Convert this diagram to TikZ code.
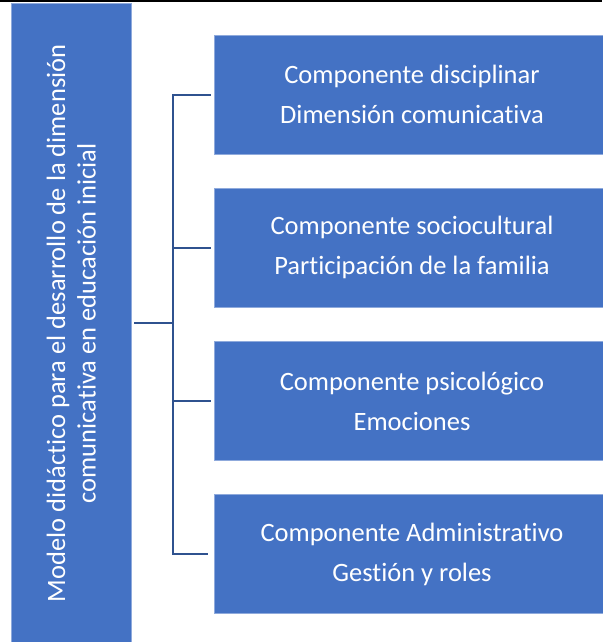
\documentclass[tikz,border=0pt]{standalone}
\usepackage{fontspec}
\setmainfont{Carlito}[Ligatures={NoCommon}]
\definecolor{boxblue}{HTML}{4472C4}
\definecolor{lineblue}{HTML}{2F528F}
\definecolor{edgeblue}{HTML}{8FAADC}
\begin{document}
\begin{tikzpicture}[x=1pt,y=-1pt,
  bluebox/.style={fill=boxblue,draw=edgeblue,line width=0.8pt,inner sep=0pt,text=white},
  compbox/.style={bluebox,minimum width=396pt,minimum height=119pt,align=center,
    font=\fontsize{26.5}{40}\selectfont},
  conn/.style={draw=lineblue,line width=2pt}]
\useasboundingbox (0,0) rectangle (602,642);
\fill[black] (0,0) rectangle (602,1.6);
\node[bluebox,rotate=90,minimum width=639.5pt,minimum height=119.5pt,align=center,
  font=\fontsize{26.5}{30.5}\selectfont] (main) at (71.25,323.25)
  {Modelo didáctico para el desarrollo de la dimensión\\comunicativa en educación inicial};
\node[compbox] (c1) at (412,94.5) {Componente disciplinar\\Dimensión comunicativa};
\node[compbox] (c2) at (412,247.8) {Componente sociocultural\\Participación de la familia};
\node[compbox] (c3) at (412,401) {Componente psicológico\\Emociones};
\node[compbox] (c4) at (412,554) {Componente Administrativo\\Gestión y roles};
\coordinate (bx) at (172.7,323.5);
\draw[conn,shorten >=3pt] (c1.west) ++(-3pt,0) -- (c1.west -| bx) -- (c4.west -| bx) -- ([xshift=-3pt]c4.west);
\draw[conn,shorten >=3pt] (c2.west -| bx) -- (c2.west);
\draw[conn,shorten >=3pt] (c3.west -| bx) -- (c3.west);
\draw[conn,shorten <=3pt] (main.south) -- (main.south -| bx);
\end{tikzpicture}
\end{document}
